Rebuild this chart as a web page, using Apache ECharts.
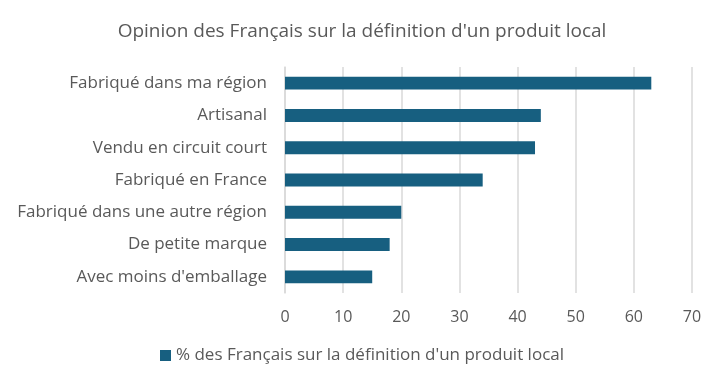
<!DOCTYPE html>
<html><head><meta charset="utf-8">
<script src="https://cdn.jsdelivr.net/npm/echarts@6/dist/echarts.min.js"></script>
<style>html,body{margin:0;padding:0;background:#fff}#c{width:724px;height:388px}</style>
</head><body><div id="c"></div>
<script>
const categories = ["Fabriqué dans ma région","Artisanal","Vendu en circuit court","Fabriqué en France","Fabriqué dans une autre région","De petite marque","Avec moins d'emballage"];
const values = [63, 44, 43, 34, 20, 18, 15];
const seriesName = "% des Français sur la définition d'un produit local";
const titleText = "Opinion des Français sur la définition d'un produit local";
const chart = echarts.init(document.getElementById('c'), null, {renderer:'canvas'});
const font = '"Open Sans", sans-serif';
chart.setOption({
  animation:false,
  title:{text:titleText,left:'center',top:17,textStyle:{color:'#595959',fontSize:19,fontWeight:'normal',fontFamily:font}},
  legend:{bottom:19,left:'center',itemWidth:11,itemHeight:11,itemGap:6,icon:'rect',
    textStyle:{color:'#595959',fontSize:17,fontFamily:font},data:[seriesName]},
  grid:{left:285,right:32,top:67,bottom:95,containLabel:false},
  xAxis:{type:'value',min:0,max:70,interval:10,
    axisLine:{show:false},axisTick:{show:false},
    axisLabel:{color:'#595959',fontSize:16,fontFamily:font,margin:16},
    splitLine:{lineStyle:{color:'#d9d9d9',width:1.5}}},
  yAxis:{type:'category',data:categories,inverse:true,
    axisLine:{show:true,lineStyle:{color:'#d9d9d9',width:1.5}},axisTick:{show:false},
    axisLabel:{color:'#595959',fontSize:17,fontFamily:font,margin:18}},
  series:[{name:seriesName,type:'bar',data:values,barCategoryGap:'60%',itemStyle:{color:'#175f80'}}]
});
</script></body></html>
